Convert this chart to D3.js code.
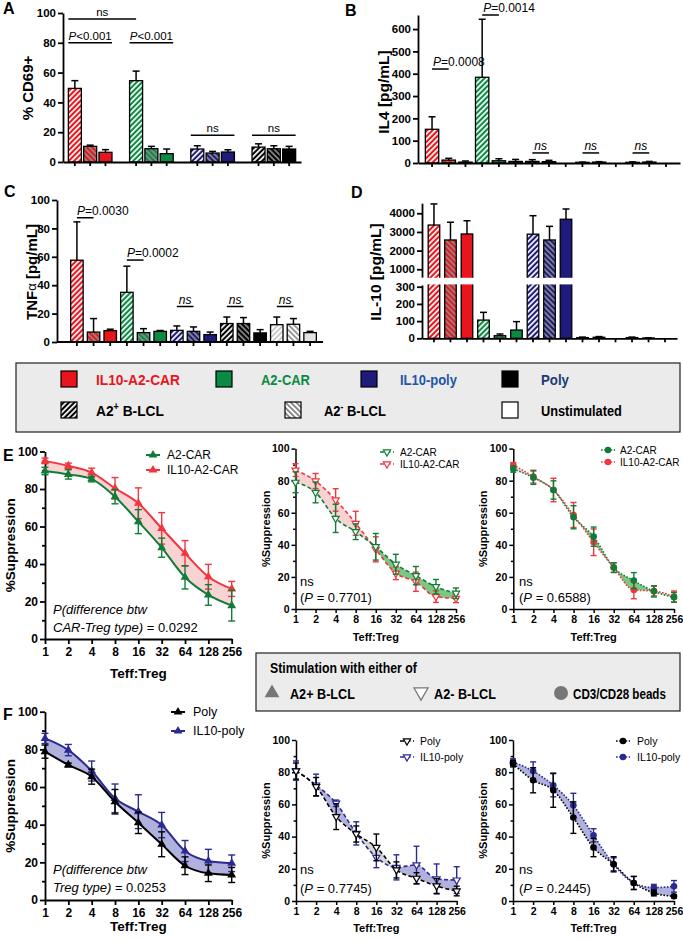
<!DOCTYPE html>
<html>
<head>
<meta charset="utf-8">
<title>IL-10 CAR-Treg figure</title>
<script src="https://cdn.jsdelivr.net/npm/d3@7"></script>
<style>
html,body{margin:0;padding:0;background:#fff;}
svg{display:block;}
</style>
</head>
<body>
<div id="chart"></div>
<script>
// ======================= DATA =======================
const cellTypes = ["IL10-A2-CAR", "A2-CAR", "IL10-poly", "Poly", "None"];
const stimTypes = ["A2+ B-LCL", "A2- B-LCL", "Unstimulated"];

// Panel A: % CD69+ (4 cell types x 3 stimulations)
const cd69Mean = [49.4, 10.5, 6.5, 54.6, 8.9, 5.6, 8.7, 6.0, 6.7, 10.0, 8.9, 8.7];
const cd69Err  = [5.2, 0.8, 1.8, 6.4, 1.6, 3.1, 2.2, 1.1, 1.5, 2.2, 2.0, 1.8];
const cd69Ticks = [0, 20, 40, 60, 80, 100];

// Panel B: IL4 [pg/mL] (5 groups x 3)
const il4Mean = [151, 13, 4, 384, 10, 7, 7, 6, 0, 3, 4, 0, 3, 4, 0];
const il4Err  = [56, 8, 5, 260, 9, 9, 8, 6, 0, 1, 2, 0, 2, 3, 0];
const il4Ticks = [0, 100, 200, 300, 400, 500, 600];

// Panel C: TNFa [pg/mL]
const tnfMean = [57.6, 7.0, 8.0, 35.0, 6.6, 7.5, 8.2, 7.5, 5.2, 13.0, 13.0, 6.4, 12.2, 12.5, 6.6];
const tnfErr  = [27, 9.5, 1.0, 18.4, 2.8, 0.6, 3.1, 3.1, 1.8, 4.6, 4.2, 2.3, 5.4, 4.0, 0.9];
const tnfTicks = [0, 20, 40, 60, 80, 100];

// Panel D: IL-10 [pg/mL] (broken axis)
const il10Mean = [3370, 2570, 2890, 106, 15, 48, 2880, 2570, 3680, 4, 6, 0, 4, 2, 0];
const il10Err  = [1130, 950, 710, 45, 10, 49, 990, 730, 550, 3, 4, 0, 3, 1, 0];
const il10LowTicks = [0, 100, 200, 300];
const il10HighTicks = [1000, 2000, 3000, 4000];

// significance annotations: [fromBar, toBar, level (data units), label]
const annotA = [[0, 3, 96, "ns"], [0, 2, 80, "P<0.001"], [3, 5, 80, "P<0.001"], [6, 8, 18, "ns"], [9, 11, 18, "ns"]];
const annotB = [[0, 1, 421, "P=0.0008"], [3, 4, 663, "P=0.0014"], [6, 7, 45, "ns"], [9, 10, 45, "ns"], [12, 13, 45, "ns"]];
const annotC = [[0, 1, 87.5, "P=0.0030"], [3, 4, 57.7, "P=0.0002"], [6, 7, 25, "ns"], [9, 10, 25, "ns"], [12, 13, 25, "ns"]];

// Panels E/F: %Suppression vs Teff:Treg ratio
const ratioTicks = [1, 2, 4, 8, 16, 32, 64, 128, 256];
const supTicks = [0, 20, 40, 60, 80, 100];
const supMinor = [10, 30, 50, 70, 90];

// E, A2+ B-LCL
const eAplus_A2CAR     = [89.6, 87.8, 85.3, 75.9, 62.6, 48.7, 32.9, 23.5, 17.8];
const eAplus_A2CAR_err = [2.0, 2.5, 1.5, 3.8, 6.4, 5.1, 6.2, 5.5, 8.2];
const eAplus_IL10      = [95.0, 92.3, 88.7, 80.4, 72.4, 59.0, 45.7, 33.2, 26.7];
const eAplus_IL10_err  = [1.5, 1.5, 2.4, 5.7, 8.2, 8.4, 6.8, 6.6, 4.0];
// E, A2- B-LCL
const eAminus_A2CAR     = [79.0, 72.7, 56.5, 48.2, 38.8, 27.9, 20.8, 13.9, 9.8];
const eAminus_A2CAR_err = [6.5, 6.5, 8.8, 4.9, 8.3, 6.2, 5.7, 4.5, 3.3];
const eAminus_IL10      = [86.6, 79.8, 68.0, 53.4, 37.2, 22.3, 17.0, 7.7, 6.6];
const eAminus_IL10_err  = [4.0, 4.7, 7.0, 7.5, 7.8, 4.0, 6.0, 3.6, 2.6];
// E, CD3/CD28 beads
const eBeads_A2CAR     = [87.3, 81.9, 74.2, 57.2, 45.1, 25.8, 17.7, 11.0, 7.3];
const eBeads_A2CAR_err = [2.0, 4.2, 5.7, 7.2, 6.0, 3.0, 5.0, 3.5, 3.0];
const eBeads_IL10      = [89.8, 82.5, 74.2, 58.6, 41.6, 25.8, 11.8, 11.2, 7.7];
const eBeads_IL10_err  = [1.5, 4.0, 7.3, 7.8, 8.3, 3.0, 5.4, 3.0, 3.5];
// F, A2+ B-LCL
const fAplus_Poly     = [78.8, 71.7, 65.5, 52.2, 41.0, 29.6, 18.2, 14.2, 13.3];
const fAplus_Poly_err = [3.5, 1.0, 4.0, 6.5, 5.7, 6.6, 4.7, 4.4, 4.0];
const fAplus_IL10     = [85.8, 79.6, 68.5, 54.0, 46.9, 39.8, 26.0, 20.7, 19.5];
const fAplus_IL10_err = [2.7, 3.0, 5.3, 7.6, 9.0, 6.7, 5.6, 6.2, 4.4];
// F, A2- B-LCL
const fAminus_Poly     = [80.7, 71.0, 52.4, 41.6, 33.3, 19.3, 14.1, 9.3, 6.2];
const fAminus_Poly_err = [5.0, 5.7, 8.0, 5.0, 8.3, 5.0, 3.5, 4.6, 3.0];
const fAminus_IL10     = [81.0, 72.0, 60.7, 42.0, 27.1, 20.9, 22.4, 13.7, 13.0];
const fAminus_IL10_err = [6.0, 6.8, 2.0, 7.2, 6.4, 7.8, 11.6, 9.3, 8.3];
// F, CD3/CD28 beads
const fBeads_Poly     = [85.3, 75.0, 68.8, 51.8, 33.2, 22.8, 11.2, 5.0, 2.9];
const fBeads_Poly_err = [2.0, 7.8, 10.6, 9.8, 5.7, 4.7, 4.1, 1.8, 1.0];
const fBeads_IL10     = [86.3, 80.7, 71.9, 59.4, 40.8, 22.8, 11.2, 8.3, 9.1];
const fBeads_IL10_err = [2.0, 5.7, 7.2, 7.5, 4.1, 4.0, 4.0, 2.0, 3.6];

// ======================= SETUP =======================
const W = 683, H = 940;
const FONT = "'Liberation Sans', Arial, Helvetica, sans-serif";
const svg = d3.select("#chart").append("svg").attr("width", W).attr("height", H)
  .attr("font-family", FONT);
svg.append("rect").attr("width", W).attr("height", H).attr("fill", "#fff");
const defs = svg.append("defs");

const cellColor = ["#e8151d", "#0b8a43", "#1e1b7a", "#000000", "#ffffff"];

function makePattern(id, bg, stripe, dir) {
  const s = 3.8;
  const p = defs.append("pattern").attr("id", id).attr("patternUnits", "userSpaceOnUse")
    .attr("width", s).attr("height", s)
    .attr("patternTransform", `rotate(${dir === "/" ? 45 : -45})`);
  p.append("rect").attr("width", s).attr("height", s).attr("fill", bg);
  p.append("rect").attr("width", 1.7).attr("height", s).attr("fill", stripe);
}
cellTypes.forEach((c, ci) => {
  if (ci < 4) {
    makePattern(`pat${ci}_0`, cellColor[ci], "#ffffff", "/");
    makePattern(`pat${ci}_1`, cellColor[ci], "#8c8c8c", "\\");
  } else {
    makePattern(`pat${ci}_0`, "#ffffff", "#c4c4c4", "/");
    makePattern(`pat${ci}_1`, "#ffffff", "#8c8c8c", "\\");
  }
});
makePattern("legPlus", "#000000", "#ffffff", "/");
makePattern("legMinus", "#ffffff", "#7a7a7a", "\\");

function barFill(i) {
  const ci = Math.floor(i / 3), si = i % 3;
  if (si < 2) return `url(#pat${ci}_${si})`;
  return ci < 4 ? cellColor[ci] : "#e4e4e4";
}

function styleAxis(ax, fs, sw) {
  ax.attr("font-family", FONT).attr("font-size", fs).attr("font-weight", "bold");
  ax.select(".domain").attr("stroke", "#000").attr("stroke-width", sw);
  ax.selectAll(".tick line").attr("stroke", "#000").attr("stroke-width", sw);
  ax.selectAll(".tick text").attr("fill", "#000");
  return ax;
}

function richText(parent, x, y, parts, o = {}) {
  const fs = o.fs || 12;
  const t = parent.append("text").attr("x", x).attr("y", y)
    .attr("font-size", fs).attr("font-weight", o.bold ? "bold" : "normal")
    .attr("text-anchor", o.anchor || "start").attr("fill", o.fill || "#000");
  parts.forEach(p => {
    const s = t.append("tspan").text(p.t);
    if (p.i) s.attr("font-style", "italic");
    if (p.sup) s.attr("baseline-shift", "super").attr("font-size", fs * 0.65);
    if (p.w) s.attr("font-weight", p.w);
    if (p.fs) s.attr("font-size", p.fs);
  });
  return t;
}
// condensed text: horizontally scaled to a target width
function narrowText(parent, x, y, parts, o, targetW) {
  const g = parent.append("g").attr("transform", `translate(${x},${y})`);
  const t = richText(g, 0, 0, parts, o);
  const w = t.node().getComputedTextLength();
  const sx = w > 0 ? Math.min(1, targetW / w) : 1;
  g.attr("transform", `translate(${x},${y}) scale(${sx},1)`);
  return g;
}
function parseP(label, italicRest) {
  if (label[0] === "P") return [{ t: "P", i: true }, { t: label.slice(1) }];
  return [{ t: label, i: !!italicRest }];
}
function vLabel(x, y, parts, fs) {
  const g = svg.append("g").attr("transform", `translate(${x},${y}) rotate(-90)`);
  richText(g, 0, 0, parts, { fs, bold: true, anchor: "middle" }).attr("dominant-baseline", "central");
}

function drawBars(g, cx, bw, yv, base, means, errs) {
  const data = means.map((m, k) => ({ m, e: errs[k], k }));
  g.selectAll("rect.bar").data(data).join("rect").attr("class", "bar")
    .attr("x", d => cx(d.k) - bw / 2).attr("y", d => yv(d.m))
    .attr("width", bw).attr("height", d => Math.max(0, base - yv(d.m)))
    .attr("fill", d => barFill(d.k))
    .attr("stroke", d => d.m > 0 ? "#000" : "none").attr("stroke-width", 1.3);
  const ed = data.filter(d => d.e > 0);
  g.selectAll("line.err").data(ed).join("line").attr("class", "err")
    .attr("x1", d => cx(d.k)).attr("x2", d => cx(d.k))
    .attr("y1", d => yv(d.m)).attr("y2", d => yv(d.m + d.e))
    .attr("stroke", "#000").attr("stroke-width", 1.5);
  g.selectAll("line.cap").data(ed).join("line").attr("class", "cap")
    .attr("x1", d => cx(d.k) - 3.5).attr("x2", d => cx(d.k) + 3.5)
    .attr("y1", d => yv(d.m + d.e)).attr("y2", d => yv(d.m + d.e))
    .attr("stroke", "#000").attr("stroke-width", 1.5);
}
function hline(g, x0, x1, y, sw) {
  g.append("line").attr("x1", x0).attr("x2", x1).attr("y1", y).attr("y2", y)
    .attr("stroke", "#000").attr("stroke-width", sw || 1.5);
}
const fmtInt = d3.format("d");

// ======================= PANEL A =======================
{
  const g = svg.append("g");
  const x = d3.scaleBand().domain(d3.range(15)).range([63, 301]).paddingInner(0.15).paddingOuter(0.35);
  const y = d3.scaleLinear().domain([0, 100]).range([162, 13]);
  const slot = k => k + Math.floor(k / 3);
  const bw = x.bandwidth();
  const cx = k => x(slot(k)) + bw / 2;
  drawBars(g, cx, bw, y, y(0), cd69Mean, cd69Err);
  styleAxis(g.append("g").attr("transform", "translate(63,0)")
    .call(d3.axisLeft(y).tickValues(cd69Ticks).tickFormat(fmtInt).tickSize(5).tickPadding(2).tickSizeOuter(0)), 11.5, 1.8);
  styleAxis(g.append("g").attr("transform", `translate(0,${y(0)})`)
    .call(d3.axisBottom(x).tickValues(cd69Mean.map((d, k) => slot(k))).tickSize(4).tickFormat("").tickSizeOuter(0)), 11, 1.8);
  annotA.forEach(([a, b, lev, lab]) => {
    const x0 = cx(a) - bw / 2, x1 = (b - a === 3) ? cx(b) : cx(b) + bw / 2;
    const yy = y(lev);
    hline(g, x0, x1, yy, 1.5);
    richText(g, (x0 + x1) / 2, yy - 3, parseP(lab), { fs: 11.5, anchor: "middle" });
  });
  vLabel(27, 88, [{ t: "% CD69+" }], 15);
  richText(svg, 3, 14, [{ t: "A" }], { fs: 16, bold: true });
}

// ======================= PANEL B =======================
{
  const g = svg.append("g");
  const x = d3.scaleBand().domain(d3.range(15)).range([418, 680]).paddingInner(0.2).paddingOuter(0.44);
  const y = d3.scaleLinear().domain([0, 663]).range([163, 15]);
  const bw = x.bandwidth();
  const cx = k => x(k) + bw / 2;
  drawBars(g, cx, bw, y, y(0), il4Mean, il4Err);
  styleAxis(g.append("g").attr("transform", "translate(418,0)")
    .call(d3.axisLeft(y).tickValues(il4Ticks).tickFormat(fmtInt).tickSize(5).tickPadding(2).tickSizeOuter(0)), 11.5, 1.8);
  styleAxis(g.append("g").attr("transform", `translate(0,${y(0)})`)
    .call(d3.axisBottom(x).tickSize(4).tickFormat("").tickSizeOuter(0)), 11, 1.8);
  annotB.forEach(([a, b, lev, lab]) => {
    const x0 = cx(a), x1 = cx(b), yy = y(lev);
    hline(g, x0, x1, yy, 1.5);
    if (lab[0] === "P") richText(g, x0 + 1, yy - 3, parseP(lab), { fs: 12 });
    else richText(g, (x0 + x1) / 2, yy - 3, parseP(lab, true), { fs: 12, anchor: "middle" });
  });
  vLabel(383, 92, [{ t: "IL4  [pg/mL]" }], 15.5);
  richText(svg, 345, 16, [{ t: "B" }], { fs: 16, bold: true });
}

// ======================= PANEL C =======================
{
  const g = svg.append("g");
  const x = d3.scaleBand().domain(d3.range(15)).range([64, 323]).paddingInner(0.25).paddingOuter(0.4);
  const y = d3.scaleLinear().domain([0, 100]).range([342, 200]);
  const bw = x.bandwidth();
  const cx = k => x(k) + bw / 2;
  drawBars(g, cx, bw, y, y(0), tnfMean, tnfErr);
  styleAxis(g.append("g").attr("transform", "translate(57,0)")
    .call(d3.axisLeft(y).tickValues(tnfTicks).tickFormat(fmtInt).tickSize(5).tickPadding(2).tickSizeOuter(0)), 11.5, 1.8);
  const xa = styleAxis(g.append("g").attr("transform", `translate(0,${y(0)})`)
    .call(d3.axisBottom(x).tickSize(4).tickFormat("").tickSizeOuter(0)), 11, 1.8);
  xa.select(".domain").remove();
  hline(g, 57, 323, y(0), 1.8);
  annotC.forEach(([a, b, lev, lab]) => {
    const x0 = cx(a), x1 = cx(b), yy = y(lev);
    hline(g, x0, x1, yy, 1.5);
    if (lab[0] === "P") richText(g, x0, yy - 3, parseP(lab), { fs: 12 });
    else richText(g, (x0 + x1) / 2, yy - 3, parseP(lab, true), { fs: 12, anchor: "middle" });
  });
  vLabel(31, 272, [{ t: "TNF" }, { t: "α", w: "normal", fs: 13 }, { t: "  [pg/mL]" }], 15);
  richText(svg, 4, 197, [{ t: "C" }], { fs: 16, bold: true });
}

// ======================= PANEL D =======================
{
  const g = svg.append("g");
  const x = d3.scaleBand().domain(d3.range(15)).range([422, 677]).paddingInner(0.3).paddingOuter(0.375);
  const yLow = d3.scaleLinear().domain([0, 310]).range([338.3, 285]);
  const yHigh = d3.scaleLinear().domain([580, 4540]).range([277.1, 203.2]);
  const yv = v => v <= 310 ? yLow(v) : yHigh(v);
  const bw = x.bandwidth();
  const cx = k => x(k) + bw / 2;
  drawBars(g, cx, bw, yv, yLow(0), il10Mean, il10Err);
  g.append("rect").attr("x", 419).attr("y", 277.8).attr("width", 264).attr("height", 6.6).attr("fill", "#fff");
  styleAxis(g.append("g").attr("transform", "translate(422,0)")
    .call(d3.axisLeft(yLow).tickValues(il10LowTicks).tickFormat(fmtInt).tickSize(5).tickPadding(2).tickSizeOuter(0)), 11.5, 1.8);
  styleAxis(g.append("g").attr("transform", "translate(422,0)")
    .call(d3.axisLeft(yHigh).tickValues(il10HighTicks).tickFormat(fmtInt).tickSize(5).tickPadding(2).tickSizeOuter(0)), 11.5, 1.8);
  styleAxis(g.append("g").attr("transform", `translate(0,${yLow(0)})`)
    .call(d3.axisBottom(x).tickSize(4).tickFormat("").tickSizeOuter(0)), 11, 1.8);
  vLabel(375, 272, [{ t: "IL-10 [pg/mL]" }], 15.5);
  richText(svg, 351, 198, [{ t: "D" }], { fs: 16, bold: true });
}

// ======================= MAIN LEGEND =======================
{
  const g = svg.append("g");
  g.append("rect").attr("x", 16).attr("y", 363).attr("width", 664).attr("height", 69)
    .attr("fill", "#ebebeb").attr("stroke", "#222").attr("stroke-width", 1.2);
  const items = [
    { fill: cellColor[0], sx: 61, row: 0, tx: 96, parts: [{ t: cellTypes[0] }], col: "#e8151d", len: 84 },
    { fill: cellColor[1], sx: 216, row: 0, tx: 261, parts: [{ t: cellTypes[1] }], col: "#0b8a43", len: 49 },
    { fill: cellColor[2], sx: 361, row: 0, tx: 400, parts: [{ t: cellTypes[2] }], col: "#1f56a8", len: 57 },
    { fill: cellColor[3], sx: 502, row: 0, tx: 541, parts: [{ t: cellTypes[3] }], col: "#1b3a78", len: 28 },
    { fill: "url(#legPlus)", sx: 61, row: 1, tx: 96, parts: [{ t: "A2" }, { t: "+", sup: true }, { t: " B-LCL" }], col: "#000", len: 68 },
    { fill: "url(#legMinus)", sx: 285, row: 1, tx: 324, parts: [{ t: "A2" }, { t: "-", sup: true }, { t: " B-LCL" }], col: "#000", len: 62 },
    { fill: "#ffffff", sx: 502, row: 1, tx: 541, parts: [{ t: stimTypes[2] }], col: "#000", len: 81 }
  ];
  const rowY = [379, 410];
  items.forEach(it => {
    g.append("rect").attr("x", it.sx).attr("y", rowY[it.row] - 8).attr("width", 16).attr("height", 16)
      .attr("fill", it.fill).attr("stroke", "#000").attr("stroke-width", 1.2);
    narrowText(g, it.tx, rowY[it.row] + 5.5, it.parts, { fs: 15.5, bold: true, fill: it.col }, it.len);
  });
}

// ======================= STIMULATION LEGEND =======================
{
  const g = svg.append("g");
  g.append("rect").attr("x", 256).attr("y", 653).attr("width", 424).attr("height", 58)
    .attr("fill", "#ececec").attr("stroke", "#222").attr("stroke-width", 1.2);
  narrowText(g, 270, 673, [{ t: "Stimulation with either of" }], { fs: 15, bold: true }, 147);
  const ry = 693;
  g.append("path").attr("d", d3.symbol(d3.symbolTriangle, 95)()).attr("transform", `translate(272,${ry})`)
    .attr("fill", "#777");
  narrowText(g, 290, ry + 5.5, [{ t: "A2+ B-LCL" }], { fs: 15, bold: true }, 65);
  g.append("path").attr("d", d3.symbol(d3.symbolTriangle, 85)()).attr("transform", `translate(421,${ry - 1}) rotate(180)`)
    .attr("fill", "#fff").attr("stroke", "#777").attr("stroke-width", 1.3);
  narrowText(g, 434, ry + 5.5, [{ t: "A2- B-LCL" }], { fs: 15, bold: true }, 62);
  g.append("circle").attr("cx", 561).attr("cy", ry).attr("r", 7).attr("fill", "#777");
  narrowText(g, 573, ry + 5.5, [{ t: "CD3/CD28 beads" }], { fs: 15, bold: true }, 93);
}

// ======================= SUPPRESSION PANELS =======================
function drawMarker(g, kind, cxp, cyp, color, big) {
  if (kind === "triUp") {
    g.append("path").attr("d", d3.symbol(d3.symbolTriangle, big ? 34 : 24)())
      .attr("transform", `translate(${cxp},${cyp})`).attr("fill", color);
  } else if (kind === "triDown") {
    g.append("path").attr("d", d3.symbol(d3.symbolTriangle, 22)())
      .attr("transform", `translate(${cxp},${cyp}) rotate(180)`)
      .attr("fill", "#fff").attr("stroke", color).attr("stroke-width", 1.2);
  } else {
    g.append("circle").attr("cx", cxp).attr("cy", cyp).attr("r", 3.3).attr("fill", color);
  }
}

function suppressionPanel(o) {
  const g = svg.append("g");
  const x = d3.scaleLog().base(2).domain([1, 256]).range([o.x0, o.x1]);
  const y = d3.scaleLinear().domain([0, 100]).range([o.yb, o.yt]);
  const curve = d3.curveMonotoneX;
  const [sTop, sUnder] = o.series;
  const px = (d, i) => x(ratioTicks[i]);
  const between = d3.area().x(px).y0((d, i) => y(sTop.vals[i])).y1((d, i) => y(sUnder.vals[i])).curve(curve);
  const aboveTop = d3.area().x(px).y0(o.yt - 40).y1((d, i) => y(sTop.vals[i])).curve(curve);
  const belowTop = d3.area().x(px).y0(o.yb + 40).y1((d, i) => y(sTop.vals[i])).curve(curve);
  defs.append("clipPath").attr("id", o.id + "A").append("path").attr("d", aboveTop(ratioTicks));
  defs.append("clipPath").attr("id", o.id + "B").append("path").attr("d", belowTop(ratioTicks));
  g.append("path").attr("d", between(ratioTicks)).attr("fill", sUnder.fill).attr("clip-path", `url(#${o.id}A)`);
  g.append("path").attr("d", between(ratioTicks)).attr("fill", sTop.fill).attr("clip-path", `url(#${o.id}B)`);

  // axes
  styleAxis(g.append("g").attr("transform", `translate(${o.x0},0)`)
    .call(d3.axisLeft(y).tickValues(supTicks).tickFormat(fmtInt).tickSize(o.tick).tickPadding(2).tickSizeOuter(0)), o.tfs, o.asw);
  const mn = styleAxis(g.append("g").attr("transform", `translate(${o.x0},0)`)
    .call(d3.axisLeft(y).tickValues(supMinor).tickSize(o.tick * 0.6).tickFormat("").tickSizeOuter(0)), o.tfs, o.asw);
  mn.select(".domain").remove();
  styleAxis(g.append("g").attr("transform", `translate(0,${o.yb})`)
    .call(d3.axisBottom(x).tickValues(ratioTicks).tickFormat(fmtInt).tickSize(o.tick).tickPadding(o.xpad).tickSizeOuter(0)), o.tfs, o.asw);

  const dash = o.style === "left" ? null : (o.style === "mid" ? "4,2.5" : "1.6,1.6");
  const lw = o.style === "left" ? 2 : 1.6;
  const mk = o.style === "left" ? "triUp" : (o.style === "mid" ? "triDown" : "circle");
  [sUnder, sTop].forEach(s => {
    const line = d3.line().x(px).y((d, i) => y(s.vals[i])).curve(curve);
    g.append("path").attr("d", line(ratioTicks)).attr("fill", "none").attr("stroke", s.color)
      .attr("stroke-width", lw).attr("stroke-dasharray", dash);
    const cw = o.style === "left" ? 3.5 : 3;
    ratioTicks.forEach((r, i) => {
      const xx = x(r), yt = y(s.vals[i] + s.errs[i]), yb = y(s.vals[i] - s.errs[i]);
      g.append("line").attr("x1", xx).attr("x2", xx).attr("y1", yt).attr("y2", yb).attr("stroke", s.color).attr("stroke-width", 1.4);
      [yt, yb].forEach(yy => g.append("line").attr("x1", xx - cw).attr("x2", xx + cw).attr("y1", yy).attr("y2", yy)
        .attr("stroke", s.color).attr("stroke-width", 1.4));
    });
    ratioTicks.forEach((r, i) => drawMarker(g, mk, x(r), y(s.vals[i]), s.color, o.style === "left"));
  });

  // axis titles
  vLabel(o.ylabX, (o.yb + o.yt) / 2, [{ t: "%Suppression" }], o.lfs);
  richText(g, (o.x0 + o.x1) / 2, o.xlabY, [{ t: "Teff:Treg" }], { fs: o.lfs, bold: true, anchor: "middle" });

  // legend
  o.legend.rows.forEach((ry, k) => {
    const s = o.legendSeries[k];
    g.append("line").attr("x1", o.legend.mx - 7).attr("x2", o.legend.mx + 7).attr("y1", ry).attr("y2", ry)
      .attr("stroke", s.color).attr("stroke-width", lw).attr("stroke-dasharray", dash);
    drawMarker(g, mk, o.legend.mx, ry, s.color, o.style === "left");
    richText(g, o.legend.tx, ry, [{ t: s.name }], { fs: o.legend.fs }).attr("dominant-baseline", "central");
  });

  // notes
  o.notes.forEach(n => richText(g, n.x, n.y, n.parts, { fs: n.fs }));
}

const colGreen = "#117c38", colRed = "#f2363f", colPoly = "#000000", colIL10poly = "#2a2a90";
const fillPink = "#f8d3d3", fillGreen = "#7cc784", fillLav = "#b1b1de", fillGrey = "#d6d6d6";

function eSeries(a2, a2e, il, ile) {
  return [
    { name: "A2-CAR", vals: a2, errs: a2e, color: colGreen, fill: fillGreen },
    { name: "IL10-A2-CAR", vals: il, errs: ile, color: colRed, fill: fillPink }
  ];
}
function fSeries(p, pe, il, ile) {
  return [
    { name: "Poly", vals: p, errs: pe, color: colPoly, fill: fillGrey },
    { name: "IL10-poly", vals: il, errs: ile, color: colIL10poly, fill: fillLav }
  ];
}

const bigCfg = { x0: 45, x1: 231.7, tick: 5, tfs: 12, lfs: 13.5, ylabX: 10, xpad: 3, asw: 1.8, style: "left" };
const smallCfgMid = { x0: 295.5, x1: 456, tick: 4, tfs: 10.5, lfs: 11, ylabX: 266, xpad: 3, asw: 1.5, style: "mid" };
const smallCfgRight = { x0: 513.3, x1: 674, tick: 4, tfs: 10.5, lfs: 11, ylabX: 483, xpad: 3, asw: 1.5, style: "right" };

// E left
{
  const s = eSeries(eAplus_A2CAR, eAplus_A2CAR_err, eAplus_IL10, eAplus_IL10_err);
  suppressionPanel(Object.assign({}, bigCfg, {
    id: "eL", yb: 639, yt: 451.5, xlabY: 678, series: s, legendSeries: s,
    legend: { mx: 153, tx: 167, rows: [455, 470], fs: 12 },
    notes: [
      { x: 53, y: 614, fs: 13, parts: [{ t: "P(difference btw", i: true }] },
      { x: 53, y: 632, fs: 13, parts: [{ t: "CAR-Treg type)", i: true }, { t: " = 0.0292" }] }
    ]
  }));
}
// E mid
{
  const s = eSeries(eAminus_A2CAR, eAminus_A2CAR_err, eAminus_IL10, eAminus_IL10_err);
  suppressionPanel(Object.assign({}, smallCfgMid, {
    id: "eM", yb: 609, yt: 448.6, xlabY: 641, series: s, legendSeries: s,
    legend: { mx: 387, tx: 400, rows: [452, 464], fs: 10 },
    notes: [
      { x: 300, y: 586, fs: 13, parts: [{ t: "ns" }] },
      { x: 300, y: 602, fs: 13, parts: [{ t: "(" }, { t: "P", i: true }, { t: " = 0.7701)" }] }
    ]
  }));
}
// E right
{
  const s = eSeries(eBeads_A2CAR, eBeads_A2CAR_err, eBeads_IL10, eBeads_IL10_err);
  suppressionPanel(Object.assign({}, smallCfgRight, {
    id: "eR", yb: 609, yt: 448.6, xlabY: 641, series: s, legendSeries: s,
    legend: { mx: 608, tx: 620, rows: [450, 462], fs: 10 },
    notes: [
      { x: 519, y: 586, fs: 13, parts: [{ t: "ns" }] },
      { x: 519, y: 602, fs: 13, parts: [{ t: "(" }, { t: "P", i: true }, { t: " = 0.6588)" }] }
    ]
  }));
}
// F left
{
  const s = fSeries(fAplus_Poly, fAplus_Poly_err, fAplus_IL10, fAplus_IL10_err);
  suppressionPanel(Object.assign({}, bigCfg, {
    id: "fL", yb: 900, yt: 711.7, xlabY: 931, series: s, legendSeries: s,
    legend: { mx: 178, tx: 193, rows: [712, 731], fs: 12.5 },
    notes: [
      { x: 53, y: 874, fs: 13, parts: [{ t: "P(difference btw", i: true }] },
      { x: 53, y: 892, fs: 13, parts: [{ t: "Treg type)", i: true }, { t: " = 0.0253" }] }
    ]
  }));
}
// F mid
{
  const s = fSeries(fAminus_Poly, fAminus_Poly_err, fAminus_IL10, fAminus_IL10_err);
  suppressionPanel(Object.assign({}, smallCfgMid, {
    id: "fM", x0: 296, x1: 456.7, yb: 901, yt: 740, xlabY: 932, series: s, legendSeries: s,
    legend: { mx: 407, tx: 420, rows: [741, 757], fs: 10.5 },
    notes: [
      { x: 300, y: 874, fs: 13, parts: [{ t: "ns" }] },
      { x: 300, y: 893, fs: 13, parts: [{ t: "(" }, { t: "P", i: true }, { t: " = 0.7745)" }] }
    ]
  }));
}
// F right
{
  const s = fSeries(fBeads_Poly, fBeads_Poly_err, fBeads_IL10, fBeads_IL10_err);
  suppressionPanel(Object.assign({}, smallCfgRight, {
    id: "fR", x0: 513, x1: 674, yb: 901, yt: 740, xlabY: 932, series: s, legendSeries: s,
    legend: { mx: 623, tx: 637, rows: [741, 757], fs: 10.5 },
    notes: [
      { x: 519, y: 874, fs: 13, parts: [{ t: "ns" }] },
      { x: 519, y: 893, fs: 13, parts: [{ t: "(" }, { t: "P", i: true }, { t: " = 0.2445)" }] }
    ]
  }));
}

richText(svg, 3, 461, [{ t: "E" }], { fs: 16, bold: true });
richText(svg, 3, 720, [{ t: "F" }], { fs: 16, bold: true });
</script>
</body>
</html>
